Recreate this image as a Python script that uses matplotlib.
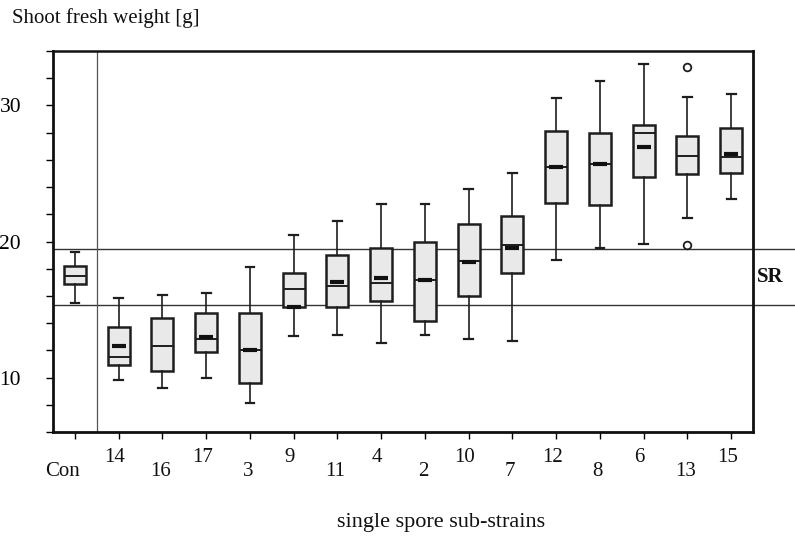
import matplotlib
matplotlib.use("Agg")
import matplotlib.pyplot as plt
from matplotlib.transforms import blended_transform_factory
import matplotlib.transforms as mtransforms

plt.rcParams['font.family'] = ['Liberation Serif', 'DejaVu Serif']

nan = float('nan')
categories = ['Con', '14', '16', '17', '3', '9', '11', '4', '2', '10', '7', '12', '8', '6', '13', '15']
whislo = [15.45, 9.8, 9.25, 10.0, 8.1, 13.07, 13.1, 12.57, 13.1, 12.87, 12.67, 18.63, 19.5, 19.85, 21.7, 23.1]
q1 = [16.85, 10.96, 10.47, 11.89, 9.61, 15.15, 15.2, 15.61, 14.17, 15.98, 17.65, 22.84, 22.67, 24.76, 24.93, 25.05]
med = [17.45, 11.52, 12.3, 12.82, 12.0, 16.48, 16.7, 16.96, 17.15, 18.55, 19.73, 25.49, 25.66, 27.99, 26.27, 26.18]
q3 = [18.18, 13.68, 14.41, 14.71, 14.71, 17.72, 19.04, 19.54, 19.98, 21.25, 21.86, 28.13, 27.94, 28.56, 27.75, 28.31]
whishi = [19.23, 15.86, 16.05, 16.25, 18.14, 20.46, 21.52, 22.79, 22.79, 23.85, 25.05, 30.51, 31.81, 33.04, 30.64, 30.84]
means = [nan, 12.3, nan, 13.0, 12.05, 15.22, 17.06, 17.3, 17.2, 18.5, 19.5, 25.49, 25.66, 26.91, nan, 26.42]
fliers = [[], [], [], [], [], [], [], [], [], [], [], [], [], [], [32.8, 19.75], []]
sr_lower = 15.35
sr_upper = 19.45

fig = plt.figure(figsize=(7.95, 5.4), dpi=100)
ax = fig.add_axes([53/795, 1-432/540, 700/795, 381/540])

stats = []
for i in range(len(categories)):
    stats.append(dict(whislo=whislo[i], q1=q1[i], med=med[i], q3=q3[i],
                      whishi=whishi[i], fliers=fliers[i], label=categories[i]))

positions = list(range(len(categories)))
edge = '#1e1e1e'
ax.bxp(stats, positions=positions, widths=0.5, patch_artist=True,
       showfliers=True, capwidths=0.2,
       boxprops=dict(facecolor='#e9e9e9', edgecolor=edge, linewidth=1.8),
       medianprops=dict(color=edge, linewidth=1.4),
       whiskerprops=dict(color=edge, linewidth=1.2),
       capprops=dict(color=edge, linewidth=1.6),
       flierprops=dict(marker='o', markerfacecolor='white', markeredgecolor=edge,
                       markersize=5.5, markeredgewidth=1.3))

# mean marks (short thick dashes)
ax.plot(positions, means, linestyle='none', marker='_', markersize=10,
        markeredgewidth=3.0, color='#111111', zorder=5)

# SR reference lines extending beyond the right axis
xmax_ext = (795-53)/700
ax.axhline(sr_upper, xmin=0, xmax=xmax_ext, color='#333333', linewidth=1.0, clip_on=False, zorder=1)
ax.axhline(sr_lower, xmin=0, xmax=xmax_ext, color='#333333', linewidth=1.0, clip_on=False, zorder=1)
ax.text(15.6, (sr_upper+sr_lower)/2, 'SR', fontsize=15, fontweight='bold',
        ha='left', va='center', color='#111111')

# separator between control and sub-strains
ax.axvline(0.5, color='#555555', linewidth=0.9, zorder=1)

ax.set_xlim(-0.5, 15.5)
ax.set_ylim(6, 34)
yt = list(range(6, 35, 2))
ax.set_yticks(yt)
ax.set_yticklabels([str(v) if v in (10, 20, 30) else '' for v in yt], fontsize=15.5)
ax.tick_params(axis='y', direction='out', length=5, width=1.0, pad=18)
ax.set_xticks(positions)
ax.set_xticklabels([''] * len(positions))
ax.tick_params(axis='x', direction='out', length=5, width=1.0)
for s in ax.spines.values():
    s.set_linewidth(2.0)
    s.set_color('#111111')
ax.spines['top'].set_linewidth(1.8)

trans = blended_transform_factory(ax.transData, ax.transAxes)
for i, lab in enumerate(categories):
    if i == 0:
        dx, dy = -12, -40
    elif i % 2 == 1:
        dx, dy = -4, -25
    else:
        dx, dy = -2, -40
    t = trans + mtransforms.ScaledTranslation(dx/100, dy/100, fig.dpi_scale_trans)
    ax.text(i, 0, lab, transform=t, ha='center', va='center', fontsize=15, color='#111111')

fig.text(12/795, 1-18/540, 'Shoot fresh weight [g]', fontsize=15, ha='left', va='center', color='#111111')
fig.text(441/795, 1-522/540, 'single spore sub-strains', fontsize=16, ha='center', va='center', color='#111111')

fig.savefig('out.png', dpi=100)
